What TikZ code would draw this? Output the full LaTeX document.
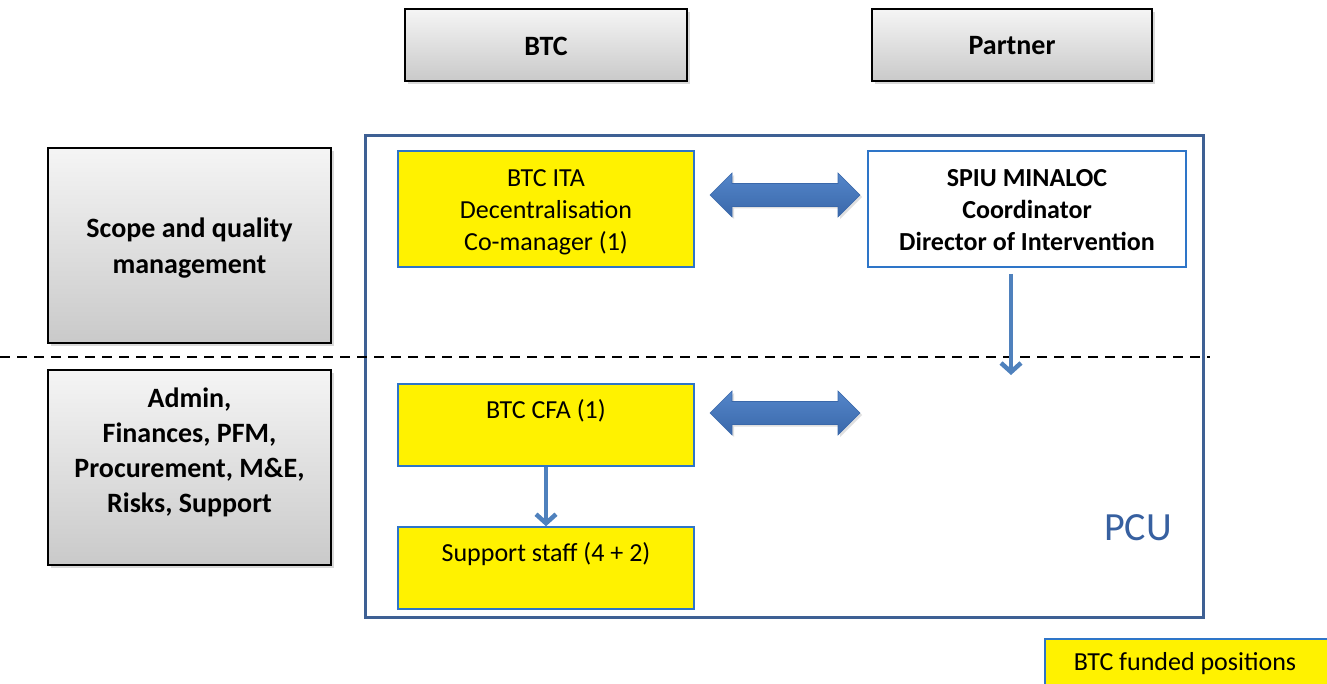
\documentclass[tikz,border=0pt]{standalone}
\usepackage{fontspec}
\setmainfont{Carlito}
\usetikzlibrary{shadows,arrows.meta,calc}
\definecolor{boxblue}{RGB}{46,117,200}
\definecolor{pcublue}{RGB}{62,96,148}
\definecolor{pcutext}{RGB}{55,96,160}
\definecolor{arrtop}{RGB}{84,134,202}
\definecolor{arrbot}{RGB}{58,104,170}
\definecolor{downblue}{RGB}{79,129,189}
\begin{document}
\begin{tikzpicture}[x=1pt,y=-1pt,
  graybox/.style={draw=black, line width=2pt, top color=gray!8, bottom color=gray!42,
    drop shadow={shadow xshift=3pt, shadow yshift=-3pt, opacity=0.3},
    font=\fontsize{28}{35}\selectfont\bfseries, align=center, inner sep=0pt},
  ybox/.style={draw=boxblue, line width=1.5pt, fill=yellow, inner sep=0pt,
    font=\fontsize{26}{32}\selectfont, align=center},
  wbox/.style={draw=boxblue, line width=1.5pt, fill=white, inner sep=0pt,
    font=\fontsize{26}{32}\selectfont\bfseries, align=center},
  txt/.style={inner sep=0pt, align=center},
  dblfill/.style={top color=arrtop, bottom color=arrbot, draw=arrbot, line width=0.6pt,
    drop shadow={shadow xshift=2pt, shadow yshift=-2pt, opacity=0.25}},
  dblarr/.pic={\path[dblfill] (-75,0) -- (-53,-22) -- (-53,-11.5) -- (53,-11.5) -- (53,-22)
     -- (75,0) -- (53,22) -- (53,11.5) -- (-53,11.5) -- (-53,22) -- cycle;},
  downarr/.style={draw=downblue, line width=4.5pt, -{Straight Barb[length=9pt,width=20pt]}},
]
\clip (0,0) rectangle (1327,684);
\useasboundingbox (0,0) rectangle (1327,684);

% header boxes
\node[graybox, minimum width=282, minimum height=72] (btc) at (546,45) {};
\node[txt, font=\fontsize{28}{35}\selectfont\bfseries] (btctxt) at (546,46) {BTC};
\node[graybox, minimum width=280, minimum height=72] (partner) at (1012,45) {};
\node[txt, font=\fontsize{28}{35}\selectfont\bfseries] (partnertxt) at (1012,46) {Partner};

% left boxes
\node[graybox, minimum width=283, minimum height=195] (scope) at (189.5,245.5) {};
\node[txt, font=\fontsize{28}{36}\selectfont\bfseries] (scopetxt) at (189.5,248)
  {Scope and quality\\management};
\node[graybox, minimum width=283, minimum height=195] (admin) at (189.5,467.5) {};
\node[txt, font=\fontsize{28}{35}\selectfont\bfseries] (admintxt) at (189.5,452.5)
  {Admin,\\Finances, PFM,\\Procurement, M\&E,\\Risks, Support};

% PCU frame
\node[draw=pcublue, line width=3pt, minimum width=838, minimum height=481, inner sep=0pt] (pcu) at (784,376.5) {};
\node[txt, text=pcutext, font=\fontsize{40}{48}\selectfont] (pculabel) at (1138,528) {PCU};

% dashed line
\coordinate (dl) at (0,357);
\coordinate (dr) at (1210,357);
\draw[line width=2pt, dash pattern=on 10pt off 7pt] (dl) -- (dr);

% inner boxes
\node[ybox, minimum width=296, minimum height=116] (ita) at (546,209) {};
\node[txt, font=\fontsize{26}{32}\selectfont] (itatxt) at (546,212)
  {BTC ITA\\Decentralisation\\Co-manager (1)};
\node[wbox, minimum width=318, minimum height=116] (spiu) at (1027,209) {};
\node[txt, font=\fontsize{26}{32}\selectfont\bfseries] (spiutxt) at (1027,210)
  {SPIU MINALOC\\Coordinator\\Director of Intervention};
\node[ybox, minimum width=296, minimum height=82] (cfa) at (546,425) {};
\node[txt, anchor=base, font=\fontsize{26}{32}\selectfont] (cfatxt) at (546,418) {BTC CFA (1)};
\node[ybox, minimum width=296, minimum height=82] (sup) at (546,568) {};
\node[txt, anchor=base, font=\fontsize{26}{32}\selectfont] (suptxt) at (546,561) {Support staff (4 + 2)};

% double arrows
\pic (arrA) at (785,195) {dblarr};
\pic (arrB) at (785,413) {dblarr};

% down arrows
\coordinate (spiustart) at (1011,274);
\coordinate (spiuend) at (1011,375);
\draw[downarr] (spiustart) -- (spiuend);
\draw[downarr] (cfa.south) -- (sup.north);

% legend
\node[ybox, minimum width=296, minimum height=60, anchor=north west] (legend) at (1044,638) {};
\node[txt, font=\fontsize{26}{32}\selectfont] (legendtxt) at (1185,664) {BTC funded positions};
\end{tikzpicture}
\end{document}
